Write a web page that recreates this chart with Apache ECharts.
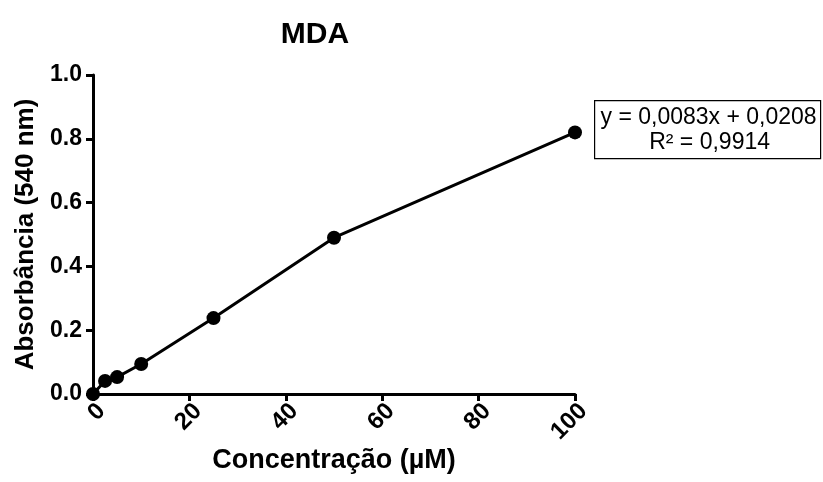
<!DOCTYPE html>
<html>
<head>
<meta charset="utf-8">
<script src="https://cdn.jsdelivr.net/npm/echarts@6/dist/echarts.min.js"></script>
<style>
  html, body { margin: 0; padding: 0; background: #fff; }
  #chart { width: 823px; height: 482px; }
</style>
</head>
<body>
<div id="chart"></div>
<script>
// MDA calibration curve: concentration (µM) vs absorbance at 540 nm
const concentrations = [0, 2.5, 5, 10, 25, 50, 100];
const absorbances = [0.0, 0.041, 0.053, 0.094, 0.238, 0.49, 0.82];
const fitLines = ['y = 0,0083x + 0,0208', 'R² = 0,9914'];

const FONT = '"Liberation Sans", Arial, sans-serif';
const chart = echarts.init(document.getElementById('chart'));

chart.setOption({
  animation: false,
  backgroundColor: '#fff',
  title: {
    text: 'MDA',
    left: 310,
    top: 15,
    textAlign: 'center',
    textStyle: { fontFamily: FONT, fontWeight: 'bold', fontSize: 30, color: '#000' }
  },
  grid: { left: 93, right: 248, top: 75, bottom: 88, containLabel: false },
  xAxis: {
    type: 'value',
    min: 0, max: 100, interval: 20,
    name: 'Concentração (µM)',
    nameLocation: 'middle',
    nameGap: 53,
    nameMoveOverlap: false,
    nameTextStyle: { fontFamily: FONT, fontWeight: 'bold', fontSize: 27, color: '#000' },
    axisLine: { show: true, lineStyle: { color: '#000', width: 3 } },
    axisTick: { show: true, inside: false, length: 7, lineStyle: { color: '#000', width: 3 } },
    axisLabel: {
      rotate: 45, margin: 5,
      verticalAlign: 'top',
      fontFamily: FONT, fontWeight: 'bold', fontSize: 24, color: '#000'
    },
    splitLine: { show: false }
  },
  yAxis: {
    type: 'value',
    min: 0, max: 1, interval: 0.2,
    name: 'Absorbância (540 nm)',
    nameLocation: 'middle',
    nameGap: 54,
    nameMoveOverlap: false,
    nameTextStyle: { fontFamily: FONT, fontWeight: 'bold', fontSize: 26, color: '#000' },
    axisLine: { show: true, lineStyle: { color: '#000', width: 3 } },
    axisTick: { show: true, inside: false, length: 7, lineStyle: { color: '#000', width: 3 } },
    axisLabel: {
      margin: 11,
      formatter: v => v.toFixed(1),
      fontFamily: FONT, fontWeight: 'bold', fontSize: 23, color: '#000'
    },
    splitLine: { show: false }
  },
  series: [{
    type: 'line',
    data: concentrations.map((c, i) => [c, absorbances[i]]),
    symbol: 'circle',
    symbolSize: 14,
    showAllSymbol: true,
    clip: false,
    lineStyle: { color: '#000', width: 3 },
    itemStyle: { color: '#000' },
    z: 5
  }],
  graphic: [{
    type: 'group',
    left: 594,
    top: 100,
    children: [
      {
        type: 'rect',
        shape: { x: 0, y: 0, width: 226, height: 58 },
        style: { fill: '#fff', stroke: '#000', lineWidth: 1.2 }
      },
      {
        type: 'text',
        x: 114, y: 17,
        style: {
          text: fitLines[0], fontFamily: FONT, fontSize: 23, fill: '#000',
          align: 'center', verticalAlign: 'middle'
        }
      },
      {
        type: 'text',
        x: 115, y: 42,
        style: {
          text: fitLines[1], fontFamily: FONT, fontSize: 23, fill: '#000',
          align: 'center', verticalAlign: 'middle'
        }
      }
    ]
  }]
});
</script>
</body>
</html>
